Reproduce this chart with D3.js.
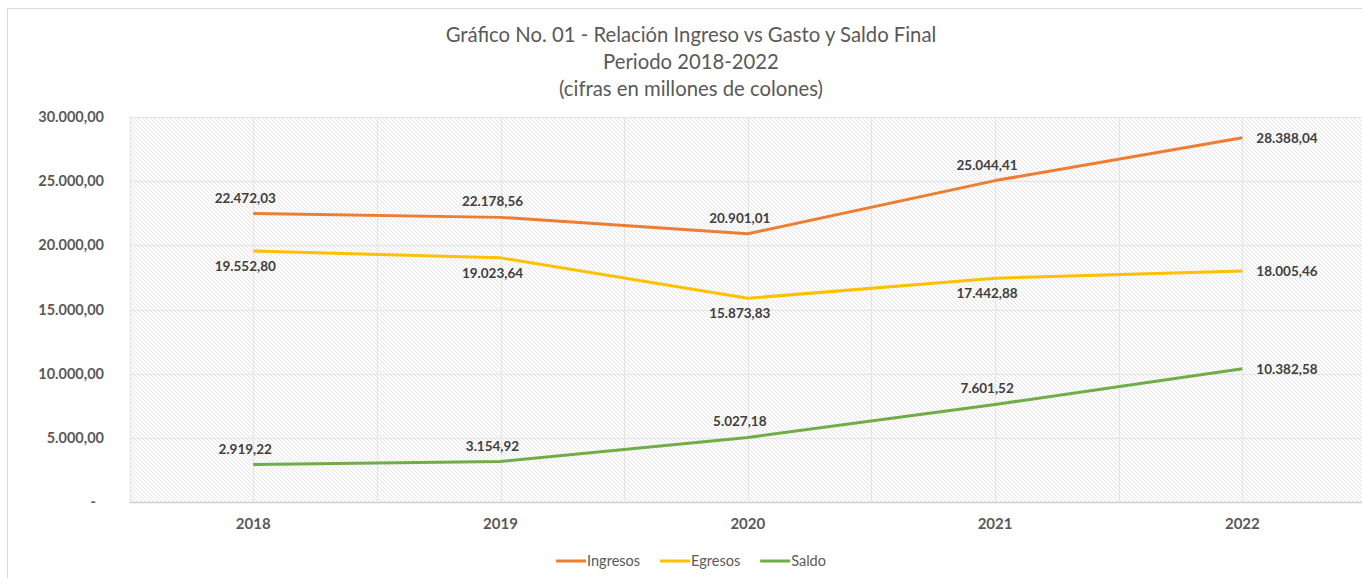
<html>
<head>
    <meta charset="utf-8">
    <script type="text/javascript" src="https://cdnjs.cloudflare.com/ajax/libs/d3/7.8.5/d3.min.js"></script>
    <style>
        body { margin: 0; background: #fff; }
        text { font-family: Lato, "Open Sans", sans-serif; }
    </style>
</head>
<body>
<script type="text/javascript">

    // data
    var years = ["2018", "2019", "2020", "2021", "2022"];
    var ingresos = [22472.03, 22178.56, 20901.01, 25044.41, 28388.04];
    var egresos = [19552.80, 19023.64, 15873.83, 17442.88, 18005.46];
    var saldo = [2919.22, 3154.92, 5027.18, 7601.52, 10382.58];
    var yTicks = [0, 5000, 10000, 15000, 20000, 25000, 30000];
    var titleLines = ["Gráfico No. 01 - Relación Ingreso vs Gasto y Saldo Final", "Periodo 2018-2022", "(cifras en millones de colones)"];

    var series = [
        {name: "Ingresos", values: ingresos, color: "#ED7D31", place: "above"},
        {name: "Egresos", values: egresos, color: "#FFC000", place: "below"},
        {name: "Saldo", values: saldo, color: "#70AD47", place: "above"}
    ];

    var W = 1362, H = 578;
    var plot = {left: 129.6, right: 1366, top: 117, bottom: 502};

    var loc = d3.formatLocale({decimal: ",", thousands: ".", grouping: [3], currency: ["", ""]});
    var fmt = loc.format(",.2f");

    var svg = d3.select("body").append("svg")
        .attr("width", W).attr("height", H);

    // hatch pattern for plot background
    var pat = svg.append("defs").append("pattern")
        .attr("id", "hatch")
        .attr("patternUnits", "userSpaceOnUse")
        .attr("width", 4).attr("height", 4);
    pat.append("rect").attr("width", 4).attr("height", 4).attr("fill", "#fcfcfc");
    pat.append("path")
        .attr("d", "M-1,3 l2,2 M0,0 l4,4 M3,-1 l2,2")
        .attr("stroke", "#e6e6e6")
        .attr("stroke-width", 1);

    // outer chart border
    svg.append("rect")
        .attr("x", 7.5).attr("y", 8.5)
        .attr("width", W + 20).attr("height", H + 20)
        .attr("fill", "#fff")
        .attr("stroke", "#d9d9d9");

    var xScale = d3.scaleBand()
        .domain(years)
        .range([plot.left, plot.right])
        .paddingInner(0).paddingOuter(0);
    var bw = xScale.bandwidth();
    function cx(i) { return xScale(years[i]) + bw / 2; }

    var yScale = d3.scaleLinear()
        .domain([0, 30000])
        .range([plot.bottom, plot.top]);

    svg.append("rect")
        .attr("x", plot.left).attr("y", plot.top)
        .attr("width", plot.right - plot.left).attr("height", plot.bottom - plot.top)
        .attr("fill", "url(#hatch)");

    // gridlines
    var grid = svg.append("g").attr("class", "grid");
    grid.selectAll("line.h")
        .data(yTicks)
        .enter().append("line")
        .attr("class", "h")
        .attr("x1", plot.left).attr("x2", plot.right)
        .attr("y1", function (d) { return Math.round(yScale(d)) + 0.5; })
        .attr("y2", function (d) { return Math.round(yScale(d)) + 0.5; })
        .attr("stroke", function (d) { return d === 0 ? "#d0d0d0" : "#e4e4e4"; })
        .attr("stroke-width", function (d) { return d === 0 ? 1.5 : 1; });

    var vx = [];
    years.forEach(function (y) { vx.push(xScale(y)); vx.push(xScale(y) + bw / 2); });
    grid.selectAll("line.v")
        .data(vx)
        .enter().append("line")
        .attr("class", "v")
        .attr("x1", function (d) { return Math.round(d) + 0.5; })
        .attr("x2", function (d) { return Math.round(d) + 0.5; })
        .attr("y1", plot.top).attr("y2", plot.bottom)
        .attr("stroke", "#e4e4e4");

    // y axis labels
    var yAxis = d3.axisLeft(yScale)
        .tickValues(yTicks)
        .tickSize(0)
        .tickPadding(0)
        .tickFormat(function (d) { return d === 0 ? "-" : fmt(d); });
    var gy = svg.append("g")
        .attr("transform", "translate(104,0)")
        .call(yAxis);
    gy.select(".domain").remove();
    gy.selectAll("text")
        .attr("fill", "#595959")
        .attr("font-size", 14.5)
        .attr("font-weight", "bold")
        .attr("dx", function (d) { return d === 0 ? -8 : 0; })
        .attr("font-family", "Lato, sans-serif");

    // x axis labels
    var xAxis = d3.axisBottom(xScale).tickSize(0).tickPadding(16);
    var gx = svg.append("g")
        .attr("transform", "translate(0," + plot.bottom + ")")
        .call(xAxis);
    gx.select(".domain").remove();
    gx.selectAll("text")
        .attr("fill", "#595959")
        .attr("font-size", 15)
        .attr("font-weight", "bold")
        .attr("font-family", "Lato, sans-serif");

    // lines
    var line = d3.line()
        .x(function (d, i) { return cx(i); })
        .y(function (d) { return yScale(d); });

    svg.selectAll("path.series")
        .data(series)
        .enter().append("path")
        .attr("class", "series")
        .attr("d", function (s) { return line(s.values); })
        .attr("fill", "none")
        .attr("stroke", function (s) { return s.color; })
        .attr("stroke-width", 3)
        .attr("stroke-linejoin", "round");

    // data labels
    series.forEach(function (s) {
        svg.append("g").selectAll("text")
            .data(s.values)
            .enter().append("text")
            .attr("x", function (d, i) { return i === years.length - 1 ? cx(i) + 14 : cx(i) - 8; })
            .attr("y", function (d, i) {
                if (i === years.length - 1) return yScale(d) + 5;
                return s.place === "above" ? yScale(d) - 11 : yScale(d) + 20;
            })
            .attr("text-anchor", function (d, i) { return i === years.length - 1 ? "start" : "middle"; })
            .attr("font-size", 13.5)
            .attr("font-weight", "bold")
            .attr("fill", "#404040")
            .text(function (d) { return fmt(d); });
    });

    // title
    svg.append("g").selectAll("text")
        .data(titleLines)
        .enter().append("text")
        .attr("x", 691)
        .attr("y", function (d, i) { return 42 + i * 27; })
        .attr("text-anchor", "middle")
        .attr("font-size", 20.3)
        .attr("fill", "#595959")
        .text(function (d) { return d; });

    // legend
    var legend = svg.append("g");
    var lx = 0;
    series.forEach(function (s) {
        var item = legend.append("g").attr("transform", "translate(" + lx + ",0)");
        item.append("line")
            .attr("x1", 0).attr("x2", 30)
            .attr("y1", 0).attr("y2", 0)
            .attr("stroke", s.color).attr("stroke-width", 3);
        var t = item.append("text")
            .attr("x", 31).attr("y", 5)
            .attr("font-size", 14.5)
            .attr("fill", "#595959")
            .text(s.name);
        lx += 31 + t.node().getComputedTextLength() + 20;
    });
    var lw = lx - 20;
    legend.attr("transform", "translate(" + (691 - lw / 2) + ",561)");

</script>
</body>
</html>
